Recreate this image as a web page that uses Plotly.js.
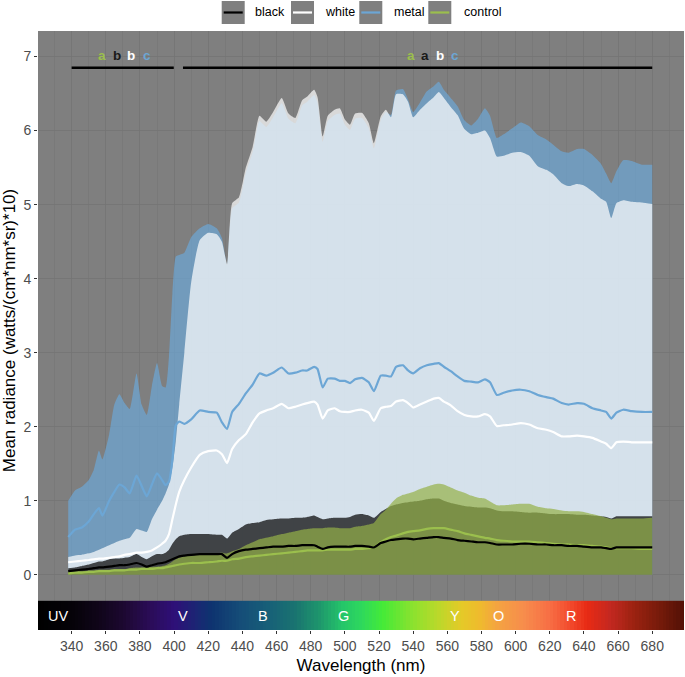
<!DOCTYPE html>
<html>
<head>
<meta charset="utf-8">
<script src="https://cdn.plot.ly/plotly-3.0.1.min.js"></script>
<style>
  html, body { margin: 0; padding: 0; background: #fff; }
  #chart { width: 685px; height: 677px; }
</style>
</head>
<body>
<div id="chart"></div>
<script>
// wavelength grid (nm)
const wavelength = [338,342,346,350,353,356,358,362,365,368,371,374,378,381,384,387,390,393,395,397,399,401,403,406,410,415,420,425,428,431,
  434,438,442,446,450,454,458,463,467,471,475,478,482,484,487,490,494,497,500,503,506,510,514,517,521,524,
  527,530,534,537,540,544,548,552,555,558,562,566,570,574,578,582,585,589,593,598,
  603,608,613,618,622,627,631,636,640,645,650,653,656,659,663,668,674,680];

// upper edge of each ribbon (ribbons reach down to 0)
const metalUpper = [1.00,1.14,1.19,1.28,1.42,1.68,1.56,1.90,2.30,2.44,2.32,2.24,2.72,2.30,2.16,2.55,2.86,2.55,2.53,2.95,3.80,4.30,4.32,4.35,4.56,4.68,4.74,4.68,4.55,4.18,
  4.95,5.03,5.43,5.71,6.13,6.05,6.18,6.37,6.16,6.10,6.34,6.39,6.48,6.38,5.85,6.13,6.21,6.23,6.08,6.01,6.16,6.17,6.03,5.76,6.14,6.25,
  6.21,6.54,6.56,6.42,6.25,6.38,6.53,6.60,6.66,6.55,6.44,6.33,6.14,6.07,6.16,6.30,6.20,5.90,5.95,6.03,
  6.11,6.06,5.94,5.88,5.81,5.72,5.70,5.75,5.75,5.67,5.55,5.42,5.29,5.45,5.60,5.59,5.54,5.54];
const whiteUpper = [0.24,0.26,0.27,0.29,0.31,0.34,0.36,0.40,0.43,0.46,0.48,0.50,0.62,0.60,0.58,0.75,0.88,1.00,1.10,1.22,1.45,1.80,2.30,3.00,3.95,4.52,4.62,4.60,4.50,4.20,
  5.02,5.10,5.50,5.78,6.20,6.12,6.25,6.44,6.23,6.17,6.41,6.46,6.55,6.45,5.92,6.20,6.28,6.30,6.15,6.08,6.23,6.24,6.10,5.83,6.19,6.28,
  6.18,6.49,6.49,6.39,6.18,6.28,6.37,6.45,6.52,6.44,6.32,6.21,6.02,5.95,5.97,6.00,5.90,5.65,5.66,5.70,
  5.71,5.66,5.52,5.47,5.41,5.29,5.25,5.28,5.26,5.18,5.08,5.04,4.82,5.02,5.06,5.04,5.03,5.01];
const blackUpper = [0.09,0.10,0.12,0.14,0.16,0.18,0.18,0.21,0.22,0.22,0.23,0.24,0.28,0.24,0.21,0.25,0.28,0.28,0.30,0.34,0.42,0.48,0.52,0.54,0.55,0.55,0.55,0.54,0.54,0.49,
  0.57,0.62,0.68,0.70,0.71,0.74,0.75,0.76,0.76,0.77,0.77,0.78,0.80,0.78,0.75,0.76,0.77,0.77,0.77,0.78,0.81,0.82,0.80,0.77,0.85,0.89,
  0.93,0.95,0.97,0.98,0.99,1.00,1.02,1.03,1.03,1.00,0.97,0.95,0.93,0.92,0.91,0.91,0.90,0.87,0.86,0.86,
  0.85,0.84,0.84,0.83,0.82,0.82,0.82,0.81,0.81,0.80,0.79,0.78,0.76,0.79,0.79,0.79,0.79,0.79];
const controlUpper = [0.05,0.05,0.05,0.06,0.06,0.07,0.07,0.07,0.08,0.08,0.08,0.09,0.10,0.10,0.10,0.11,0.11,0.12,0.13,0.15,0.18,0.21,0.23,0.25,0.26,0.27,0.28,0.29,0.30,0.29,
  0.32,0.35,0.40,0.44,0.48,0.50,0.52,0.55,0.57,0.59,0.61,0.62,0.63,0.63,0.63,0.64,0.64,0.63,0.63,0.63,0.65,0.66,0.68,0.70,0.82,0.88,
  0.96,1.03,1.08,1.10,1.12,1.16,1.19,1.22,1.23,1.22,1.18,1.14,1.11,1.07,1.04,1.03,0.99,0.94,0.94,0.95,
  0.96,0.96,0.92,0.90,0.89,0.87,0.86,0.86,0.85,0.82,0.79,0.77,0.75,0.76,0.76,0.76,0.76,0.77];

// mean lines
const metalMean = [0.51,0.61,0.64,0.72,0.82,0.90,0.80,1.00,1.12,1.22,1.18,1.10,1.34,1.20,1.06,1.22,1.37,1.28,1.21,1.26,1.55,2.02,2.07,2.04,2.10,2.22,2.20,2.19,2.06,1.97,
  2.20,2.31,2.45,2.57,2.72,2.69,2.73,2.80,2.72,2.73,2.76,2.76,2.81,2.78,2.53,2.65,2.65,2.62,2.62,2.59,2.64,2.66,2.60,2.48,2.69,2.69,
  2.68,2.81,2.83,2.76,2.72,2.79,2.83,2.85,2.86,2.81,2.75,2.68,2.62,2.61,2.60,2.64,2.60,2.43,2.46,2.49,
  2.50,2.48,2.43,2.40,2.38,2.32,2.30,2.32,2.31,2.25,2.22,2.20,2.11,2.19,2.23,2.21,2.20,2.20];
const whiteMean = [0.17,0.18,0.19,0.20,0.21,0.22,0.22,0.23,0.24,0.25,0.27,0.28,0.30,0.30,0.31,0.33,0.37,0.42,0.46,0.55,0.75,0.95,1.12,1.28,1.45,1.62,1.67,1.68,1.63,1.51,
  1.70,1.82,1.90,2.06,2.18,2.22,2.25,2.31,2.25,2.27,2.30,2.32,2.34,2.30,2.11,2.22,2.25,2.21,2.20,2.20,2.22,2.23,2.19,2.08,2.25,2.27,
  2.28,2.34,2.36,2.32,2.26,2.30,2.34,2.38,2.39,2.34,2.29,2.21,2.16,2.14,2.14,2.17,2.14,2.01,2.02,2.03,
  2.05,2.03,1.98,1.96,1.93,1.87,1.87,1.88,1.87,1.85,1.80,1.77,1.71,1.79,1.80,1.79,1.79,1.79];
const blackMean = [0.05,0.06,0.07,0.08,0.09,0.10,0.10,0.11,0.12,0.13,0.13,0.14,0.16,0.14,0.11,0.13,0.15,0.16,0.17,0.19,0.21,0.23,0.25,0.26,0.27,0.28,0.28,0.28,0.28,0.23,
  0.28,0.32,0.34,0.35,0.36,0.37,0.38,0.38,0.39,0.39,0.40,0.40,0.40,0.38,0.35,0.37,0.38,0.38,0.38,0.38,0.39,0.39,0.38,0.37,0.43,0.45,
  0.47,0.48,0.49,0.49,0.48,0.49,0.50,0.51,0.51,0.50,0.49,0.47,0.46,0.45,0.44,0.44,0.43,0.41,0.41,0.41,
  0.42,0.42,0.41,0.41,0.40,0.40,0.39,0.39,0.38,0.37,0.37,0.36,0.35,0.37,0.37,0.37,0.37,0.37];
const controlMean = [0.02,0.03,0.03,0.04,0.04,0.05,0.05,0.05,0.06,0.06,0.06,0.07,0.07,0.08,0.08,0.08,0.09,0.09,0.10,0.11,0.12,0.13,0.14,0.15,0.16,0.16,0.17,0.18,0.19,0.19,
  0.21,0.22,0.24,0.25,0.26,0.27,0.28,0.29,0.30,0.31,0.32,0.33,0.33,0.33,0.33,0.34,0.34,0.34,0.34,0.34,0.35,0.35,0.36,0.37,0.44,0.48,
  0.51,0.53,0.56,0.58,0.59,0.60,0.62,0.63,0.63,0.63,0.61,0.59,0.56,0.54,0.52,0.50,0.49,0.47,0.46,0.45,
  0.45,0.45,0.44,0.43,0.42,0.41,0.41,0.40,0.40,0.39,0.38,0.37,0.36,0.36,0.36,0.36,0.35,0.35];

// legend / group names
const groups = ['black', 'white', 'metal', 'control'];
const lineColors = {black: '#000000', white: '#ffffff', metal: '#6ca6d5', control: '#9bbf4d'};
const ribbonColors = {black: 'rgba(0,0,0,0.7)', white: 'rgba(255,255,255,0.7)',
                      metal: 'rgba(108,166,213,0.7)', control: 'rgba(148,177,71,0.7)'};

// significance letters and the wavelength spans they belong to
const sigSpans = [[340, 399.8], [405.2, 680]];
const sigLetters = [['a','b','b','c'], ['a','a','b','c']];
const sigLetterColors = ['#9bbf4d', '#1a1a1a', '#ffffff', '#6ca6d5'];
const sigLetterNm = [[358, 366.7, 374.9, 384.3], [538.7, 547, 555.6, 564.4]];

// colour band under the panel
const spectrumStops = [320,340,355,370,385,400,412,422,440,455,470,485,498,510,522,540,555,568,578,590,605,620,632,642,655,670,685,700];
const spectrumColors = ['#000000','#050208','#0f0518','#1c0830','#2a0c55','#2e0f78','#1c2474','#0e3470','#154e78','#175f78',
  '#197270','#1e966c','#24c46a','#2ed95c','#44ea38','#8ce22e','#bcd82a','#e4ca28','#eebc2c','#f4a242',
  '#f78c4c','#f76e44','#f24a2c','#e82a14','#c42820','#9a2210','#741a0a','#4e0f05'];
const spectrumLabels = ['UV','V','B','G','Y','O','R'];
const spectrumLabelNm = [332, 405.5, 452, 499, 564.5, 589.7, 632.6];

const font = '"Liberation Sans", Arial, Helvetica, sans-serif';

// pixel -> paper helpers (plot area is 38..684 x 31..630)
const W = 685, H = 677, M = {l: 38, r: 1, t: 31, b: 47};
const px = x => (x - M.l) / (W - M.l - M.r);
const py = y => (H - M.b - y) / (H - M.t - M.b);

let traces = [];

// spectrum heatmap
let edges = [];
for (let w = 320; w <= 700; w += 2) edges.push(w);
traces.push({
  type: 'heatmap',
  x: edges,
  y: [-0.76, -0.351],
  z: [edges.slice(0, -1).map(w => w + 1)],
  zmin: 320, zmax: 700,
  colorscale: spectrumStops.map((s, i) => [(s - 320) / 380, spectrumColors[i]]),
  showscale: false,
  hoverinfo: 'skip'
});

// ribbons: metal, white, black, control
const uppers = {black: blackUpper, white: whiteUpper, metal: metalUpper, control: controlUpper};
['metal', 'white', 'black', 'control'].forEach(g => {
  traces.push({
    type: 'scatter', mode: 'lines', x: wavelength, y: uppers[g],
    fill: 'tozeroy', fillcolor: ribbonColors[g],
    line: {width: 0, color: ribbonColors[g], shape: 'spline', smoothing: 0.5}, hoverinfo: 'skip'
  });
});

// mean lines
const means = {black: blackMean, white: whiteMean, metal: metalMean, control: controlMean};
['metal', 'white', 'control', 'black'].forEach(g => {
  traces.push({
    type: 'scatter', mode: 'lines', x: wavelength, y: means[g], name: g,
    line: {width: 2.2, color: lineColors[g], shape: 'spline', smoothing: 0.5}
  });
});

let shapes = [];
let annotations = [];

// significance bars + letters
sigSpans.forEach((s, i) => {
  shapes.push({type: 'line', xref: 'x', yref: 'y', x0: s[0], x1: s[1], y0: 6.85, y1: 6.85,
               line: {color: '#000', width: 2.5}, layer: 'above'});
  sigLetters[i].forEach((l, j) => {
    annotations.push({xref: 'x', yref: 'y', x: sigLetterNm[i][j], y: 7.02, text: '<b>' + l + '</b>',
      showarrow: false, font: {size: 13.5, color: sigLetterColors[j], family: font}});
  });
});

// spectrum letters
spectrumLabels.forEach((l, i) => {
  annotations.push({xref: 'x', yref: 'y', x: spectrumLabelNm[i], y: -0.55, text: l, showarrow: false,
    font: {size: 14.5, color: '#ffffff', family: font}});
});

// legend drawn by hand (grey key boxes like ggplot)
const keyBoxX = [221.7, 291, 359.3, 428.3];
const keyTextX = [253.3, 322.7, 391.7, 461.7];
groups.forEach((g, i) => {
  shapes.push({type: 'rect', xref: 'paper', yref: 'paper', x0: px(keyBoxX[i]), x1: px(keyBoxX[i] + 23),
    y0: py(24), y1: py(1), fillcolor: '#7f7f7f', line: {width: 0}});
  shapes.push({type: 'line', xref: 'paper', yref: 'paper', x0: px(keyBoxX[i] + 2), x1: px(keyBoxX[i] + 21),
    y0: py(12.5), y1: py(12.5), line: {color: lineColors[g], width: 2.2}});
  annotations.push({xref: 'paper', yref: 'paper', x: px(keyTextX[i]), y: py(12.5), xanchor: 'left',
    yanchor: 'middle', text: g, showarrow: false, font: {size: 12.5, color: '#000', family: font}});
});

const gridColor = '#747474';
const layout = {
  width: W, height: H,
  margin: M,
  paper_bgcolor: '#ffffff',
  plot_bgcolor: '#7f7f7f',
  showlegend: false,
  font: {family: font, color: '#000'},
  xaxis: {
    range: [320.3, 698.6], tickmode: 'linear', tick0: 340, dtick: 20,
    ticks: 'outside', ticklen: 3, tickcolor: '#333333',
    tickfont: {size: 14, color: '#4d4d4d'},
    showgrid: true, gridcolor: gridColor, gridwidth: 0.8,
    minor: {dtick: 10, tick0: 340, showgrid: true, gridcolor: gridColor, gridwidth: 0.6},
    zeroline: false, showline: false, automargin: false, fixedrange: true,
    title: {text: 'Wavelength (nm)', font: {size: 17, color: '#000'}, standoff: 6}
  },
  yaxis: {
    range: [-0.745, 7.345], tickmode: 'linear', tick0: 0, dtick: 1,
    ticks: 'outside', ticklen: 3, tickcolor: '#333333',
    tickfont: {size: 14, color: '#4d4d4d'},
    showgrid: true, gridcolor: gridColor, gridwidth: 0.8,
    zeroline: false, showline: false, automargin: false, fixedrange: true,
    title: {text: 'Mean radiance (watts/(cm*nm*sr)*10)', font: {size: 17, color: '#000'}, standoff: 4}
  },
  shapes: shapes,
  annotations: annotations
};

Plotly.newPlot('chart', traces, layout, {displayModeBar: false, staticPlot: true});
</script>
</body>
</html>
